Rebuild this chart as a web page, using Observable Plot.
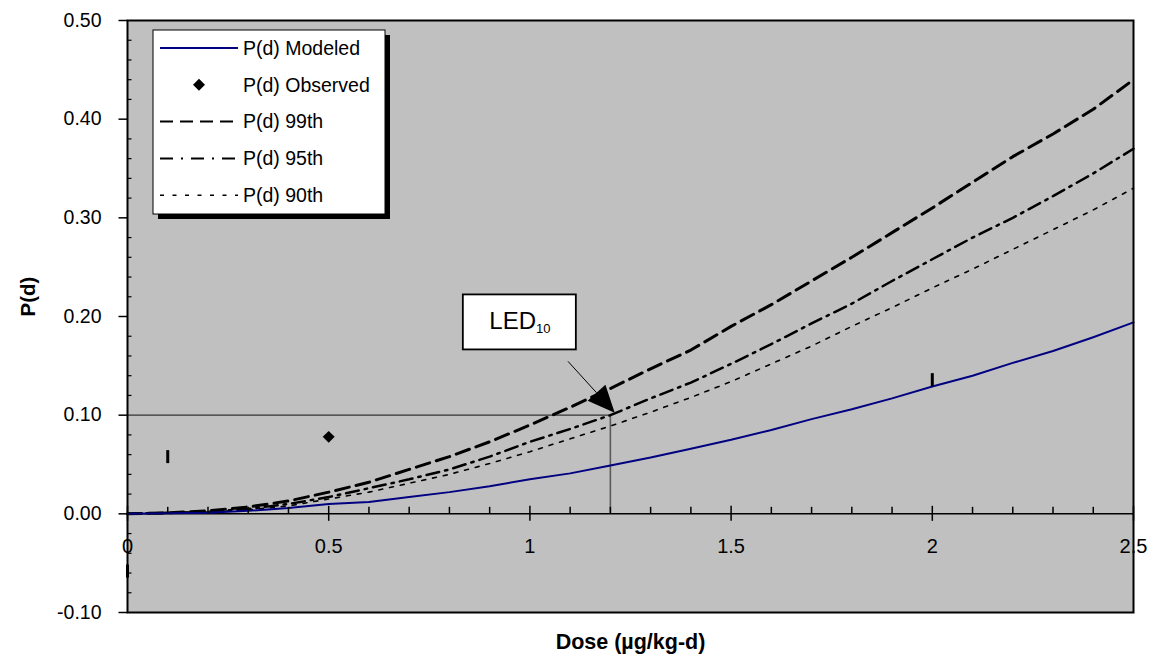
<!DOCTYPE html>
<html>
<head>
<meta charset="utf-8">
<script src="https://cdn.jsdelivr.net/npm/d3@7"></script>
<script src="https://cdn.jsdelivr.net/npm/@observablehq/plot@0.6"></script>
<style>
  html, body { margin: 0; padding: 0; background: #ffffff; }
  #chart { width: 1156px; height: 664px; }
</style>
</head>
<body>
<div id="chart"></div>
<script>
// ---------------- data ----------------
const dose     = [0, 0.1, 0.2, 0.3, 0.4, 0.5, 0.6, 0.7, 0.8, 0.9, 1.0, 1.1, 1.2, 1.3, 1.4, 1.5, 1.6, 1.7, 1.8, 1.9, 2.0, 2.1, 2.2, 2.3, 2.4, 2.5];
const modeled  = [0, 0.0005, 0.001, 0.003, 0.006, 0.010, 0.012, 0.017, 0.022, 0.028, 0.035, 0.041, 0.049, 0.057, 0.066, 0.075, 0.085, 0.096, 0.106, 0.117, 0.129, 0.140, 0.153, 0.165, 0.179, 0.194];
const p99      = [0, 0.001, 0.003, 0.007, 0.013, 0.022, 0.032, 0.045, 0.058, 0.073, 0.090, 0.108, 0.127, 0.147, 0.166, 0.190, 0.212, 0.236, 0.260, 0.285, 0.310, 0.336, 0.362, 0.385, 0.410, 0.440];
const p95      = [0, 0.001, 0.002, 0.005, 0.010, 0.017, 0.026, 0.035, 0.045, 0.058, 0.073, 0.086, 0.100, 0.117, 0.133, 0.152, 0.172, 0.193, 0.213, 0.236, 0.258, 0.280, 0.300, 0.322, 0.345, 0.370];
const p90      = [0, 0.001, 0.002, 0.004, 0.008, 0.015, 0.022, 0.031, 0.040, 0.051, 0.063, 0.076, 0.089, 0.103, 0.118, 0.134, 0.152, 0.170, 0.190, 0.209, 0.229, 0.248, 0.268, 0.288, 0.308, 0.330];

const obsDose  = [0.5];
const obsP     = [0.078];
const barDose  = [0, 0.1, 2.0];
const barP     = [-0.058, 0.058, 0.136];

const xTicks   = [0, 0.5, 1, 1.5, 2, 2.5];
const xMinor   = [0.1, 0.2, 0.3, 0.4, 0.6, 0.7, 0.8, 0.9, 1.1, 1.2, 1.3, 1.4, 1.6, 1.7, 1.8, 1.9, 2.1, 2.2, 2.3, 2.4];
const yTicks   = [-0.1, 0, 0.1, 0.2, 0.3, 0.4, 0.5];
const yMinor   = [-0.08, -0.06, -0.04, -0.02, 0.02, 0.04, 0.06, 0.08, 0.12, 0.14, 0.16, 0.18, 0.22, 0.24, 0.26, 0.28, 0.32, 0.34, 0.36, 0.38, 0.42, 0.44, 0.46, 0.48];

const ledDose  = 1.2;
const ledP     = 0.10;
const ledLabel = ["LED", "10"];
const ledLabelAt = [0.975, 0.194];   // label box centre (dose, P)
const ledArrowFrom = [1.096, 0.154];
const ledArrowTo   = [1.212, 0.102];

const legendNames = ["P(d) Modeled", "P(d) Observed", "P(d) 99th", "P(d) 95th", "P(d) 90th"];
const xTitle = "Dose (µg/kg-d)";
const yTitle = "P(d)";

// ---------------- table ----------------
const rows = dose.map((d, i) => ({dose: d, modeled: modeled[i], p99: p99[i], p95: p95[i], p90: p90[i]}));
const obsRows = obsDose.map((d, i) => ({dose: d, p: obsP[i]}));
const barRows = barDose.map((d, i) => ({dose: d, p: barP[i]}));

// ---------------- styles ----------------
const FONT = "'Liberation Sans', Arial, Helvetica, sans-serif";
const NAVY = "#000080";
const S99 = {stroke: "#000", strokeWidth: 3, dash: "14,7"};
const S95 = {stroke: "#000", strokeWidth: 2.5, dash: "13,6,2.5,6"};
const S90 = {stroke: "#000", strokeWidth: 1.6, dash: "4,7"};

const vTick = (up, down) => ({draw(ctx) { ctx.moveTo(0, -up); ctx.lineTo(0, down); }});
const hTick = (left, right) => ({draw(ctx) { ctx.moveTo(-left, 0); ctx.lineTo(right, 0); }});

const plot = Plot.plot({
  width: 1156,
  height: 664,
  marginLeft: 127,
  marginRight: 23,
  marginTop: 20,
  marginBottom: 52,
  x: {domain: [0, 2.5], axis: null},
  y: {domain: [-0.1, 0.5], axis: null},
  style: {fontFamily: FONT, background: "#ffffff", color: "#000", overflow: "visible"},
  marks: [
    Plot.frame({fill: "#c0c0c0", stroke: "none"}),
    // x axis line at P = 0
    Plot.ruleY([0], {stroke: "#000", strokeWidth: 1.5}),
    // LED reference lines
    Plot.ruleY([ledP], {x1: 0, x2: ledDose, stroke: "#333", strokeWidth: 1.2}),
    Plot.ruleX([ledDose], {y1: 0, y2: ledP, stroke: "#5a5a5a", strokeWidth: 1.6}),
    // curves
    Plot.line(rows, {x: "dose", y: "p90", stroke: S90.stroke, strokeWidth: S90.strokeWidth, strokeDasharray: S90.dash}),
    Plot.line(rows, {x: "dose", y: "p95", stroke: S95.stroke, strokeWidth: S95.strokeWidth, strokeDasharray: S95.dash}),
    Plot.line(rows, {x: "dose", y: "p99", stroke: S99.stroke, strokeWidth: S99.strokeWidth, strokeDasharray: S99.dash}),
    Plot.line(rows, {x: "dose", y: "modeled", stroke: NAVY, strokeWidth: 2}),
    // observed
    Plot.dot(obsRows, {x: "dose", y: "p", symbol: "diamond2", r: 5.4, fill: "#000", stroke: "none"}),
    Plot.dot(barRows, {x: "dose", y: "p", symbol: vTick(6.5, 6.5), fill: "none", stroke: "#000", strokeWidth: 3}),
    // x ticks (axis crosses at P = 0)
    Plot.dot(xMinor, {x: d => d, y: () => 0, symbol: vTick(7, 0), fill: "none", stroke: "#000", strokeWidth: 1.5}),
    Plot.dot(xTicks, {x: d => d, y: () => 0, symbol: vTick(8, 7), fill: "none", stroke: "#000", strokeWidth: 1.5}),
    Plot.text(xTicks, {x: d => d, y: () => 0, text: d => String(d), dy: 33, fontSize: 20, fill: "#000"}),
    // y ticks
    Plot.dot(yMinor, {x: () => 0, y: d => d, symbol: hTick(0, 4), fill: "none", stroke: "#000", strokeWidth: 1.2}),
    Plot.dot(yTicks, {x: () => 0, y: d => d, symbol: hTick(9, 0), fill: "none", stroke: "#000", strokeWidth: 1.5}),
    Plot.text(yTicks, {x: () => 0, y: d => d, text: d => d.toFixed(2), textAnchor: "end", dx: -26, fontSize: 19.5, fill: "#000"}),
    // titles
    Plot.text([xTitle], {frameAnchor: "bottom", dy: 36, fontSize: 21.5, fontWeight: "bold", fill: "#000"}),
    Plot.text([yTitle], {frameAnchor: "left", dx: -99, rotate: -90, fontSize: 20.5, fontWeight: "bold", fill: "#000"}),
    Plot.frame({stroke: "#000", strokeWidth: 2})
  ]
});

document.getElementById("chart").appendChild(plot);

// ---------------- annotations (positioned via Plot's scales) ----------------
const svg = d3.select(plot);
const xs = plot.scale("x"), ys = plot.scale("y");
const X = v => xs.apply(v), Y = v => ys.apply(v);

// LED10 arrow
{
  const x0 = X(ledArrowFrom[0]), y0 = Y(ledArrowFrom[1]);
  const x1 = X(ledArrowTo[0]), y1 = Y(ledArrowTo[1]);
  const dx = x1 - x0, dy = y1 - y0, L = Math.hypot(dx, dy);
  const ux = dx / L, uy = dy / L;
  const headLen = 27, headHalf = 12;
  const bx = x1 - ux * headLen, by = y1 - uy * headLen;
  const g = svg.append("g").attr("aria-label", "LED arrow");
  g.append("line").attr("x1", x0).attr("y1", y0).attr("x2", bx).attr("y2", by)
    .attr("stroke", "#000").attr("stroke-width", 1);
  g.append("path")
    .attr("d", `M${x1},${y1}L${bx - uy * headHalf},${by + ux * headHalf}L${bx + uy * headHalf},${by - ux * headHalf}Z`)
    .attr("fill", "#000");
}

// LED10 label box
{
  const cx = X(ledLabelAt[0]), cy = Y(ledLabelAt[1]);
  const w = 113, h = 55;
  const g = svg.append("g").attr("aria-label", "LED label");
  g.append("rect").attr("x", cx - w / 2).attr("y", cy - h / 2).attr("width", w).attr("height", h)
    .attr("fill", "#fff").attr("stroke", "#000").attr("stroke-width", 1.8);
  const t = g.append("text").attr("x", cx - 30).attr("y", cy + 7).attr("text-anchor", "start")
    .attr("font-family", FONT).attr("font-size", 24).attr("fill", "#000");
  t.append("tspan").text(ledLabel[0]);
  t.append("tspan").attr("font-size", 13).attr("dy", 4).text(ledLabel[1]);
}

// Legend
{
  const lx = 153, ly = 30, lw = 232, lh = 184;
  const g = svg.append("g").attr("aria-label", "legend");
  g.append("rect").attr("x", lx + 5).attr("y", ly + 5).attr("width", lw).attr("height", lh).attr("fill", "#000");
  g.append("rect").attr("x", lx).attr("y", ly).attr("width", lw).attr("height", lh)
    .attr("fill", "#fff").attr("stroke", "#000").attr("stroke-width", 1);
  const styles = [
    {stroke: NAVY, width: 2, dash: null},
    null,
    {stroke: "#000", width: 2, dash: "13,7"},
    {stroke: "#000", width: 2, dash: "13,8,2,8"},
    {stroke: "#000", width: 1.6, dash: "4,8.5"}
  ];
  legendNames.forEach((name, i) => {
    const y = 48 + i * 36.8;
    const s = styles[i];
    if (s) {
      g.append("line").attr("x1", 160).attr("x2", 238).attr("y1", y).attr("y2", y)
        .attr("stroke", s.stroke).attr("stroke-width", s.width)
        .attr("stroke-dasharray", s.dash);
    } else {
      g.append("path").attr("d", d3.symbol(d3.symbolDiamond2, 92)()).attr("transform", `translate(199,${y})`).attr("fill", "#000");
    }
    g.append("text").attr("x", 243).attr("y", y).attr("dy", "0.35em").attr("text-anchor", "start")
      .attr("font-family", FONT).attr("font-size", 19.5).attr("fill", "#000").text(name);
  });
}
</script>
</body>
</html>
